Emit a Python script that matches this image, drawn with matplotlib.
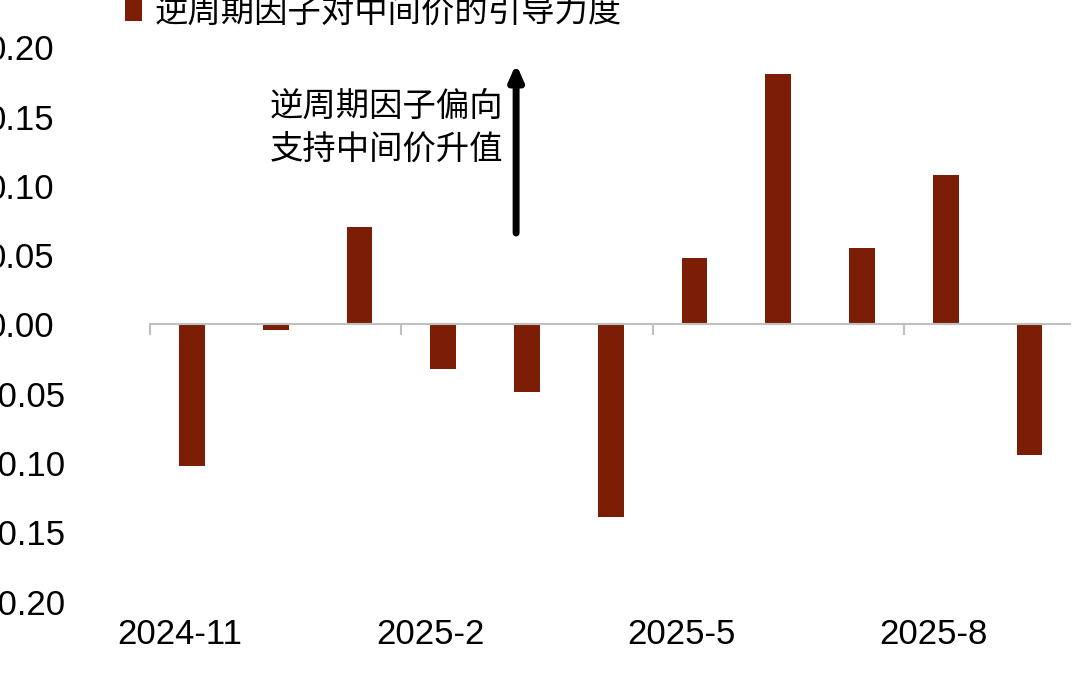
import matplotlib
matplotlib.use("Agg")
import matplotlib.pyplot as plt
import numpy as np

plt.rcParams['font.family'] = ['Liberation Sans', 'Noto Sans CJK SC']

months = ['2024-11', '2024-12', '2025-1', '2025-2', '2025-3', '2025-4',
          '2025-5', '2025-6', '2025-7', '2025-8', '2025-9']
values = [-0.102, -0.004, 0.070, -0.032, -0.049, -0.139,
          0.048, 0.181, 0.055, 0.108, -0.094]
tick_labels = ['2024-11', '2025-2', '2025-5', '2025-8']
label_idx = [0, 3, 6, 9]
yticks = [-0.20, -0.15, -0.10, -0.05, 0.00, 0.05, 0.10, 0.15, 0.20]

fig = plt.figure(figsize=(10.8, 6.76), dpi=100)
ax = fig.add_axes([0.139, 0.11, 0.853, 0.82])
x = np.arange(len(months))
ax.bar(x, values, width=0.31, color='#7B1E05', label='逆周期因子对中间价的引导力度')

ax.set_ylim(-0.2, 0.2)
ax.set_xlim(-0.5, len(months) - 0.5)
ax.set_yticks(yticks)
ax.set_yticklabels([f'{v:.2f}' for v in yticks], fontsize=25)
ax.tick_params(axis='y', length=0, pad=28)
for lab in ax.get_yticklabels():
    lab.set_horizontalalignment('left')
    lab.set_x(-0.135)
for s in ['top', 'right', 'left', 'bottom']:
    ax.spines[s].set_visible(False)
ax.axhline(0, color='#BFBFBF', lw=1.5)
ax.set_xticks([])
for i in [-0.5, 2.5, 5.5, 8.5]:
    ax.plot([i, i], [0, -0.007], color='#BFBFBF', lw=1.5, clip_on=False)
for i, lab in zip(label_idx, tick_labels):
    ax.text(i - 0.15, -0.212, lab, ha='center', va='top', fontsize=25)

ax.annotate('', xy=(3.87, 0.19), xytext=(3.87, 0.064),
            arrowprops=dict(arrowstyle='-|>,head_width=0.4,head_length=0.9',
                            color='black', lw=5))
ax.text(3.72, 0.142, '逆周期因子偏向\n支持中间价升值', ha='right', va='center',
        fontsize=24, family=['Noto Sans CJK SC'], linespacing=1.3)

ax.legend(loc='upper left', bbox_to_anchor=(-0.06, 1.15), frameon=False,
          handlelength=0.5, handleheight=0.7, handletextpad=0.4,
          prop={'family': 'Noto Sans CJK SC', 'size': 24})
fig.savefig('out.png')
